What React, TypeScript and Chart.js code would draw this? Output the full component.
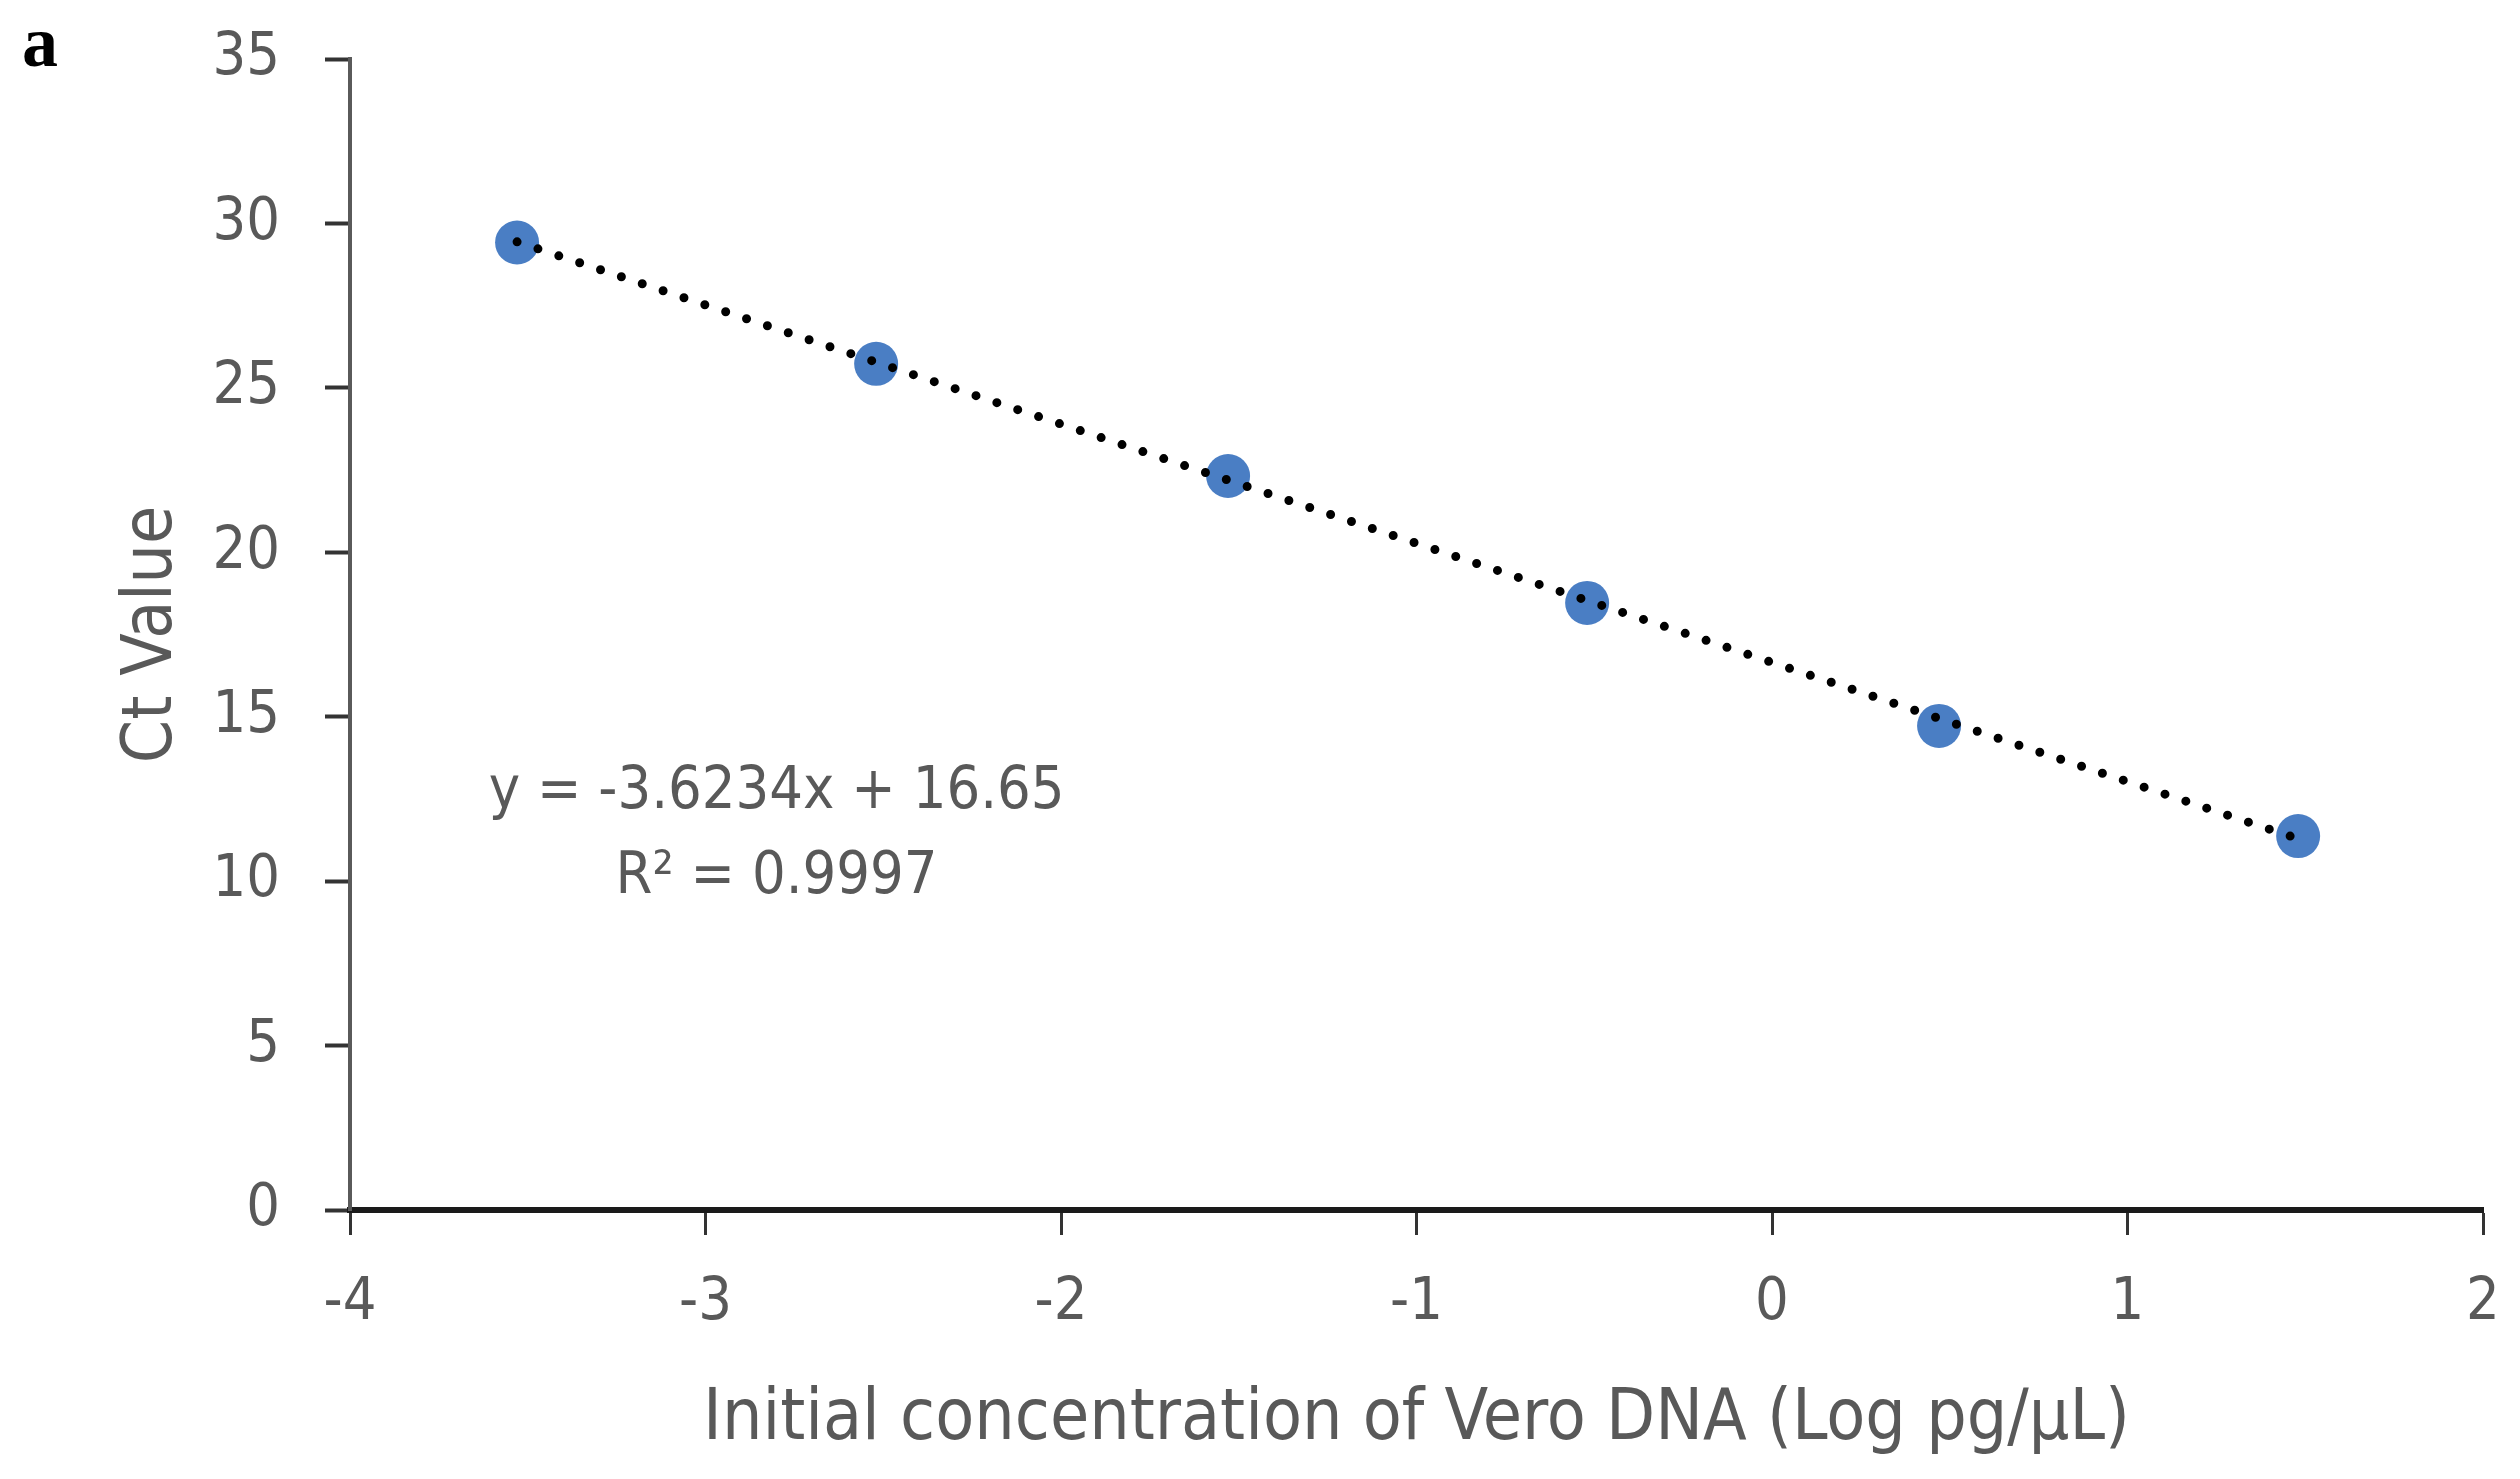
import React, { useEffect, useRef } from "react";
import { Chart, registerables } from "chart.js";

Chart.register(...registerables);

// ---- data ----
const logConcentrations = [-3.53, -2.52, -1.53, -0.52, 0.47, 1.48];
const ctValues = [29.42, 25.73, 22.32, 18.46, 14.72, 11.37];
const fitSlope = -3.6234;
const fitIntercept = 16.65;
const equationLines = ["y = -3.6234x + 16.65", "R\u00B2 = 0.9997"];
const xTickValues = [-4, -3, -2, -1, 0, 1, 2];
const yTickValues = [0, 5, 10, 15, 20, 25, 30, 35];
const xAxisTitle = "Initial concentration of Vero DNA (Log pg/\u00B5L)";
const yAxisTitle = "Ct Value";
const panelLabel = "a";

const W = 2520;
const H = 1479;
const AREA = { top: 59, right: 2483, bottom: 1210, left: 350 };
const FONT = "'DejaVu Sans Condensed', 'Liberation Sans Narrow', 'DejaVu Sans', sans-serif";
const TEXT = "#595959";

export default function App() {
  const ref = useRef<HTMLCanvasElement | null>(null);

  useEffect(() => {
    document.body.style.margin = "0";
    const canvas = ref.current;
    if (!canvas) return;

    const xMin = Math.min(...logConcentrations);
    const xMax = Math.max(...logConcentrations);
    const trend = [xMin, xMax].map((x) => ({ x, y: fitSlope * x + fitIntercept }));
    const points = logConcentrations.map((x, i) => ({ x, y: ctValues[i] }));

    const overlay = {
      id: "overlay",
      afterDatasetsDraw(chart: any) {
        const ctx = chart.ctx;
        const xs = chart.scales.x;
        const ys = chart.scales.y;
        ctx.save();
        ctx.fillStyle = TEXT;
        ctx.textAlign = "center";
        ctx.textBaseline = "middle";
        ctx.font = `59px ${FONT}`;
        const cx = xs.getPixelForValue(-2.8);
        ctx.fillText(equationLines[0], cx, ys.getPixelForValue(12.7));
        ctx.fillText(equationLines[1], cx, ys.getPixelForValue(10.1));
        ctx.fillStyle = "#000";
        ctx.font = `bold 72px 'Liberation Serif', 'DejaVu Serif', serif`;
        ctx.textAlign = "left";
        ctx.textBaseline = "alphabetic";
        ctx.fillText(panelLabel, 22, 66);
        ctx.restore();
      },
    };

    const chart = new Chart(canvas, {
      type: "scatter",
      data: {
        datasets: [
          {
            type: "line",
            label: "trend",
            data: trend,
            borderColor: "#000000",
            borderWidth: 9,
            borderDash: [0, 22],
            borderCapStyle: "round",
            pointRadius: 0,
            fill: false,
            order: 0,
          } as any,
          {
            label: "Ct",
            data: points,
            backgroundColor: "#4a7ec4",
            borderColor: "#4a7ec4",
            borderWidth: 0,
            pointRadius: 22,
            order: 1,
          },
        ],
      },
      plugins: [overlay],
      options: {
        animation: false,
        responsive: false,
        devicePixelRatio: 1,
        layout: {
          autoPadding: false,
          padding: { top: AREA.top, right: W - AREA.right, left: 0, bottom: 0 },
        },
        plugins: {
          legend: { display: false },
          tooltip: { enabled: false },
        },
        scales: {
          x: {
            type: "linear",
            min: -4,
            max: 2,
            afterBuildTicks: (s: any) => {
              s.ticks = xTickValues.map((v) => ({ value: v }));
            },
            afterFit: (s: any) => {
              s.height = H - AREA.bottom;
              s.paddingLeft = 0;
              s.paddingRight = 0;
            },
            border: { display: true, color: "#1a1a1a", width: 6 },
            grid: {
              drawOnChartArea: false,
              drawTicks: true,
              tickLength: 25,
              tickColor: "#333333",
              tickWidth: 3,
            },
            ticks: {
              color: TEXT,
              font: { family: FONT, size: 59 },
              padding: 33,
              maxRotation: 0,
            },
            title: {
              display: true,
              text: xAxisTitle,
              color: TEXT,
              font: { family: FONT, size: 71 },
              padding: { top: 0, bottom: 16 },
            },
          },
          y: {
            type: "linear",
            min: 0,
            max: 35,
            afterBuildTicks: (s: any) => {
              s.ticks = yTickValues.map((v) => ({ value: v }));
            },
            afterFit: (s: any) => {
              s.width = AREA.left;
              s.paddingTop = 0;
              s.paddingBottom = 0;
            },
            border: { display: true, color: "#5a5a5a", width: 4 },
            grid: {
              drawOnChartArea: false,
              drawTicks: true,
              tickLength: 25,
              tickColor: "#333333",
              tickWidth: 4,
            },
            ticks: {
              color: TEXT,
              font: { family: FONT, size: 59 },
              padding: 45,
            },
            title: {
              display: true,
              text: yAxisTitle,
              color: TEXT,
              font: { family: FONT, size: 69 },
              padding: { top: 112, bottom: 0 },
            },
          },
        },
      },
    } as any);

    // nudge layout padding so the plot area lands where the reference has it
    for (let i = 0; i < 4; i++) {
      const a = chart.chartArea;
      const p: any = (chart.options as any).layout.padding;
      const dTop = AREA.top - a.top;
      const dRight = a.right - AREA.right;
      if (Math.abs(dTop) < 0.5 && Math.abs(dRight) < 0.5) break;
      p.top += dTop;
      p.right += dRight;
      chart.update();
    }

    return () => chart.destroy();
  }, []);

  return (
    <div style={{ width: W, height: H, background: "#fff" }}>
      <canvas ref={ref} width={W} height={H} style={{ display: "block", width: W, height: H }} />
    </div>
  );
}
